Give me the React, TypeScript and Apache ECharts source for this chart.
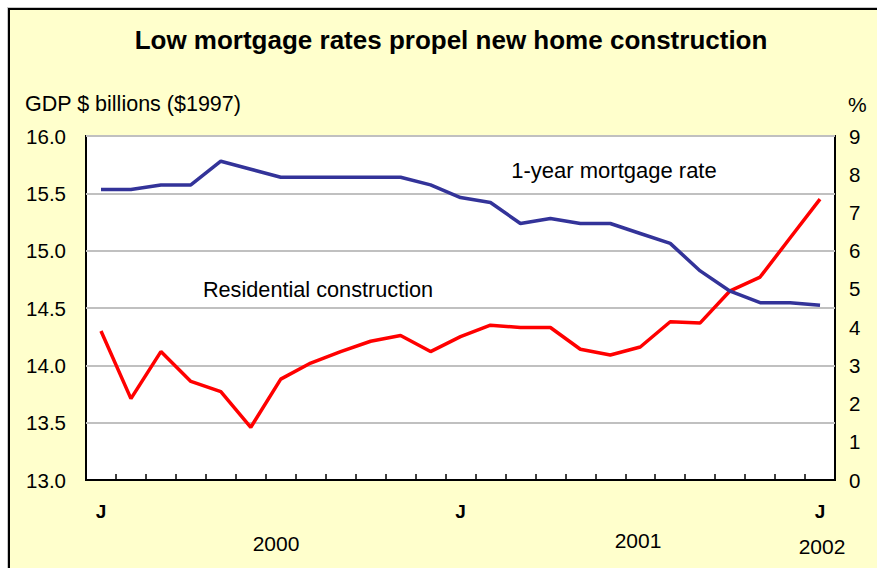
import React, { useEffect, useRef } from "react";
import * as echarts from "echarts";

const title = "Low mortgage rates propel new home construction";
const leftAxisName = "GDP $ billions ($1997)";
const rightAxisName = "%";

// Monthly, Jan 2000 .. Jan 2002
const monthInitials = [
  "J", "F", "M", "A", "M", "J", "J", "A", "S", "O", "N", "D",
  "J", "F", "M", "A", "M", "J", "J", "A", "S", "O", "N", "D",
  "J",
];
const yearLabels = ["2000", "2001", "2002"];

// Residential construction, GDP $ billions ($1997) - left axis
const residentialConstruction = [
  14.30, 13.71, 14.12, 13.86, 13.77, 13.46, 13.88, 14.02, 14.12, 14.21,
  14.26, 14.12, 14.25, 14.35, 14.33, 14.33, 14.14, 14.09, 14.16, 14.38,
  14.37, 14.65, 14.77, 15.11, 15.45,
];

// 1-year mortgage rate, % - right axis
const mortgageRate = [
  7.60, 7.60, 7.72, 7.72, 8.34, 8.13, 7.92, 7.92, 7.92, 7.92,
  7.92, 7.72, 7.39, 7.26, 6.71, 6.84, 6.71, 6.71, 6.45, 6.19,
  5.47, 4.94, 4.64, 4.64, 4.57,
];

const FONT = "Liberation Sans, Arial, sans-serif";

export default function App() {
  const ref = useRef<HTMLDivElement>(null);

  useEffect(() => {
    if (!ref.current) return;
    const chart = echarts.init(ref.current, undefined, { renderer: "svg" });
    const txt = (text: string, x: number, y: number, fontSize: number, align = "center", fontWeight = "normal") => ({
      type: "text",
      x,
      y,
      style: {
        text,
        fontSize,
        fontWeight,
        fontFamily: FONT,
        fill: "#000000",
        align,
        verticalAlign: "middle",
      },
    });
    chart.setOption({
      animation: false,
      backgroundColor: "#ffffff",
      textStyle: { fontFamily: FONT },
      grid: {
        left: 86,
        right: 42,
        top: 136,
        bottom: 88,
        show: true,
        backgroundColor: "#ffffff",
        borderColor: "#000000",
        borderWidth: 2,
      },
      xAxis: {
        type: "category",
        data: monthInitials,
        boundaryGap: true,
        axisLine: { show: true, lineStyle: { color: "#000000", width: 2 } },
        axisTick: {
          show: true,
          inside: true,
          length: 6,
          interval: 0,
          lineStyle: { color: "#000000", width: 1.5 },
        },
        axisLabel: {
          interval: 11,
          margin: 22,
          color: "#000000",
          fontSize: 19,
          fontWeight: "bold",
          fontFamily: FONT,
        },
        splitLine: { show: false },
      },
      yAxis: [
        {
          type: "value",
          min: 13,
          max: 16,
          interval: 0.5,
          position: "left",
          axisLine: { show: false },
          axisTick: { show: false },
          axisLabel: {
            margin: 20,
            color: "#000000",
            fontSize: 20.5,
            fontFamily: FONT,
            formatter: (v: number) => v.toFixed(1),
          },
          splitLine: { show: true, lineStyle: { color: "#c0c0c0", width: 2 } },
        },
        {
          type: "value",
          min: 0,
          max: 9,
          interval: 1,
          position: "right",
          axisLine: { show: false },
          axisTick: { show: false },
          axisLabel: {
            margin: 14,
            color: "#000000",
            fontSize: 20.5,
            fontFamily: FONT,
          },
          splitLine: { show: false },
        },
      ],
      series: [
        {
          name: "Residential construction",
          type: "line",
          yAxisIndex: 0,
          data: residentialConstruction,
          symbol: "none",
          lineStyle: { color: "#ff0000", width: 3.5 },
          z: 3,
        },
        {
          name: "1-year mortgage rate",
          type: "line",
          yAxisIndex: 1,
          data: mortgageRate,
          symbol: "none",
          lineStyle: { color: "#333399", width: 3.5 },
          z: 4,
        },
      ],
      graphic: [
        {
          type: "rect",
          z: -20,
          silent: true,
          shape: { x: 7, y: 7, width: 900, height: 600 },
          style: { fill: "#c8c8c8" },
        },
        {
          type: "rect",
          z: -19,
          silent: true,
          shape: { x: 9, y: 9, width: 900, height: 600 },
          style: { fill: "#ffffcc", stroke: "#000000", lineWidth: 2 },
        },
        txt(title, 451, 40, 26, "center", "bold"),
        txt(leftAxisName, 25, 104, 21.5, "left"),
        txt(rightAxisName, 848, 104, 21, "left"),
        txt("1-year mortgage rate", 614, 170, 22, "center"),
        txt("Residential construction", 318, 289, 21.7, "center"),
        txt(yearLabels[0], 276, 543, 21, "center"),
        txt(yearLabels[1], 638, 540, 21, "center"),
        txt(yearLabels[2], 822, 546, 21, "center"),
      ],
    });
    return () => chart.dispose();
  }, []);

  return (
    <div
      ref={ref}
      style={{ position: "absolute", left: 0, top: 0, width: 877, height: 568 }}
    />
  );
}
